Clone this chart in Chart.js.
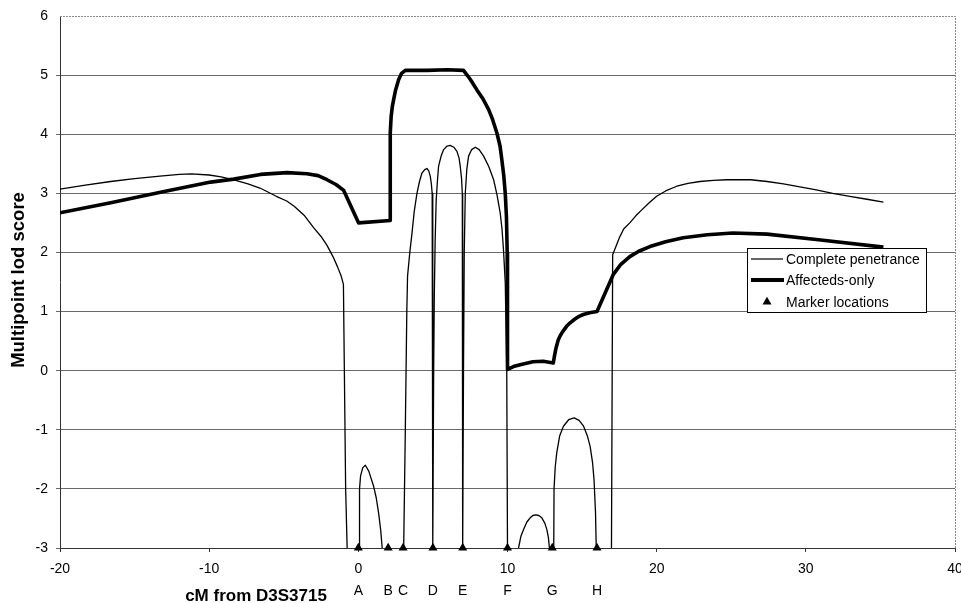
<!DOCTYPE html>
<html>
<head>
<meta charset="utf-8">
<script src="https://cdn.jsdelivr.net/npm/chart.js@4"></script>
<style>
  html, body { margin: 0; padding: 0; background: #fff; }
  #wrap { width: 961px; height: 603px; }
</style>
</head>
<body>
<div id="wrap"><canvas id="c" width="961" height="603"></canvas></div>
<script>
// Multipoint lod score along the map, cM from D3S3715.
// null lod values mark where a curve runs below the plotted range.
const penetranceCM = [
  -20, -18.3, -16.6, -15, -13.3, -12, -11.2, -10, -9.2, -8.4, -7.4, -6.6, -5.5, -4.8, -4.3, -3.6, -3.0, -2.5, -2.1, -1.7, -1.4, -1.15, -1.0, -0.95, -0.85, -0.75,
  -0.4,
  0.05, 0.08, 0.15, 0.3, 0.47, 0.7, 1.03, 1.2, 1.36, 1.5, 1.6,
  2.3,
  3.04, 3.15, 3.25, 3.3, 3.45, 3.6, 3.75, 3.93, 4.1, 4.26, 4.45, 4.6, 4.72, 4.82, 4.9, 4.95, 4.98, 5.0,
  5.05, 5.09, 5.15, 5.22, 5.3, 5.38, 5.55, 5.72, 5.95, 6.16, 6.4, 6.61, 6.75, 6.83, 6.92, 6.97, 6.99, 7.0,
  7.05, 7.1, 7.17, 7.27, 7.39, 7.6, 7.84, 8.1, 8.4, 8.75, 9.07, 9.3, 9.51, 9.63, 9.73, 9.85, 9.95, 10.0,
  10.4,
  10.74, 10.9, 11.07, 11.3, 11.52, 11.7, 11.9, 12.1, 12.3, 12.5, 12.64, 12.74, 12.81,
  12.95,
  13.1, 13.12, 13.2, 13.3, 13.5, 13.75, 14.1, 14.47, 14.8, 15.1, 15.35, 15.54, 15.7, 15.8, 15.9, 15.95,
  16.5,
  16.97, 17.05, 17.5, 17.8, 18.2, 18.6, 19.0, 19.5, 20.0, 20.6, 21.35, 22.1, 22.9, 23.8, 24.7, 26.3, 27.4, 28.5, 29.6, 30.7, 31.8, 32.95, 34.1, 35.2
];
const penetranceLod = [
  3.07, 3.14, 3.2, 3.25, 3.29, 3.32, 3.33, 3.31, 3.28, 3.23, 3.16, 3.09, 2.95, 2.87, 2.78, 2.62, 2.42, 2.27, 2.12, 1.93, 1.76, 1.6, 1.46, 0.3, -2.0, -3.0,
  null,
  -3.0, -2.0, -1.78, -1.64, -1.6, -1.7, -1.96, -2.15, -2.41, -2.7, -3.0,
  null,
  -3.0, -1.0, 1.0, 1.6, 2.0, 2.33, 2.7, 3.0, 3.2, 3.34, 3.4, 3.42, 3.38, 3.29, 3.15, 3.0, 2.0, -3.0,
  0.0, 1.2, 2.2, 2.89, 3.2, 3.46, 3.63, 3.74, 3.8, 3.81, 3.78, 3.71, 3.6, 3.46, 3.25, 3.0, 1.5, -3.0,
  0.0, 2.0, 3.0, 3.4, 3.63, 3.74, 3.78, 3.74, 3.63, 3.45, 3.23, 2.97, 2.67, 2.4, 2.05, 1.49, 0.0, -3.0,
  null,
  -3.0, -2.8, -2.69, -2.56, -2.49, -2.45, -2.44, -2.45, -2.49, -2.58, -2.69, -2.82, -3.0,
  null,
  -3.0, -2.0, -1.63, -1.39, -1.1, -0.94, -0.83, -0.8, -0.84, -0.94, -1.1, -1.28, -1.55, -1.84, -2.4, -3.0,
  null,
  -3.0, 1.96, 2.25, 2.4, 2.5, 2.62, 2.72, 2.84, 2.95, 3.04, 3.12, 3.17, 3.2, 3.22, 3.23, 3.23, 3.2, 3.16, 3.11, 3.06, 3.0, 2.95, 2.9, 2.85
];

const affectedCM = [
  -20, -16.6, -13.26, -9.9, -8.35, -6.56, -4.78, -3.44, -2.7, -2.1, -1.5, -0.98, 0.02, 2.14,
  2.14, 2.2, 2.28, 2.37, 2.5, 2.7, 2.9, 3.15,
  4.6, 5.94, 7.05, 7.5, 7.95, 8.35, 8.73, 9.0, 9.29, 9.5, 9.62, 9.75, 9.85, 9.93, 9.98, 10.0, 10.0,
  10.4, 10.85, 11.7, 12.4, 13.07, 13.15, 13.25, 13.4, 13.55, 13.7, 13.96, 14.2, 14.5, 14.8, 15.08, 15.5, 16.0,
  17.1, 17.6, 18.2, 18.8, 19.55, 20.6, 21.78, 23.4, 25.1, 27.4, 30.7, 35.2
];
const affectedLod = [
  2.67, 2.84, 3.02, 3.19, 3.24, 3.32, 3.35, 3.33, 3.3, 3.23, 3.15, 3.05, 2.5, 2.54,
  4.02, 4.3, 4.47, 4.59, 4.75, 4.92, 5.03, 5.08,
  5.08, 5.09, 5.08, 4.93, 4.75, 4.6, 4.42, 4.25, 4.02, 3.8, 3.57, 3.3, 3.0, 2.6, 2.0, 1.0, 0.02,
  0.07, 0.1, 0.15, 0.16, 0.13, 0.25, 0.38, 0.52, 0.6, 0.66, 0.75, 0.81, 0.87, 0.92, 0.95, 0.98, 1.0,
  1.63, 1.8, 1.93, 2.02, 2.1, 2.18, 2.25, 2.3, 2.33, 2.31, 2.22, 2.09
];

const markerCM = [0, 2, 3, 5, 7, 10, 13, 16];
const markerNames = ['A', 'B', 'C', 'D', 'E', 'F', 'G', 'H'];
const markerLod = [-3, -3, -3, -3, -3, -3, -3, -3];

const xTicks = [-20, -10, 0, 10, 20, 30, 40];
const yTicks = [-3, -2, -1, 0, 1, 2, 3, 4, 5, 6];

const seriesNames = ['Complete penetrance', 'Affecteds-only', 'Marker locations'];
const xTitle = 'cM from D3S3715';
const yTitle = 'Multipoint lod score';

const FONT = "'Liberation Sans', Arial, Helvetica, sans-serif";
Chart.defaults.font.family = FONT;
Chart.defaults.font.size = 14;
Chart.defaults.color = '#000';

const toPoints = (xs, ys) => xs.map((x, i) => ({ x: x, y: ys[i] }));

const decor = {
  id: 'decor',
  beforeDatasetsDraw(chart) {
    const { ctx, chartArea: a } = chart;
    ctx.save();
    ctx.strokeStyle = '#8a8a8a';
    ctx.lineWidth = 1;
    ctx.setLineDash([2, 1]);
    ctx.beginPath();
    ctx.moveTo(a.left, Math.round(a.top) + 0.5);
    ctx.lineTo(Math.round(a.right) + 0.5, Math.round(a.top) + 0.5);
    ctx.lineTo(Math.round(a.right) + 0.5, a.bottom);
    ctx.stroke();
    ctx.restore();
  },
  afterDraw(chart) {
    const { ctx } = chart;
    ctx.save();
    // axis titles
    ctx.fillStyle = '#000';
    ctx.textAlign = 'center';
    ctx.textBaseline = 'middle';
    ctx.font = 'bold 17px ' + FONT;
    ctx.fillText(xTitle, 256, 596);
    ctx.font = 'bold 18.5px ' + FONT;
    ctx.translate(18.5, 280);
    ctx.rotate(-Math.PI / 2);
    ctx.fillText(yTitle, 0, 0);
    ctx.restore();

    // legend box
    ctx.save();
    const bx = 747.5, by = 248.5, bw = 179, bh = 64;
    ctx.fillStyle = '#fff';
    ctx.fillRect(bx, by, bw, bh);
    ctx.strokeStyle = '#000';
    ctx.lineWidth = 1;
    ctx.strokeRect(bx, by, bw, bh);
    const rows = [259, 280, 302];
    ctx.lineCap = 'butt';
    ctx.beginPath();
    ctx.lineWidth = 1.2;
    ctx.moveTo(751, rows[0]); ctx.lineTo(783, rows[0]);
    ctx.stroke();
    ctx.beginPath();
    ctx.lineWidth = 4;
    ctx.moveTo(751, rows[1]); ctx.lineTo(784, rows[1]);
    ctx.stroke();
    ctx.fillStyle = '#000';
    Chart.helpers.drawPoint(ctx, { pointStyle: 'triangle', radius: 5.2, borderWidth: 0 }, 767, rows[2]);
    ctx.font = '14px ' + FONT;
    ctx.textAlign = 'left';
    ctx.textBaseline = 'middle';
    seriesNames.forEach((n, i) => ctx.fillText(n, 786, rows[i] + 1));
    ctx.restore();
  }
};

new Chart(document.getElementById('c'), {
  type: 'scatter',
  data: {
    datasets: [
      {
        label: seriesNames[0],
        data: toPoints(penetranceCM, penetranceLod),
        showLine: true,
        spanGaps: false,
        borderColor: '#000',
        borderWidth: 1.3,
        borderJoinStyle: 'round',
        pointRadius: 0,
        tension: 0
      },
      {
        label: seriesNames[1],
        data: toPoints(affectedCM, affectedLod),
        showLine: true,
        borderColor: '#000',
        borderWidth: 3.6,
        borderJoinStyle: 'round',
        pointRadius: 0,
        tension: 0
      },
      {
        label: seriesNames[2],
        data: toPoints(markerCM, markerLod),
        showLine: false,
        pointStyle: 'triangle',
        pointRadius: 5.2,
        pointBackgroundColor: '#000',
        pointBorderColor: '#000',
        pointBorderWidth: 0,
        clip: false
      }
    ]
  },
  options: {
    responsive: false,
    animation: false,
    layout: { padding: { top: 16, right: 6, left: 0, bottom: 0 } },
    plugins: { legend: { display: false }, tooltip: { enabled: false } },
    scales: {
      x: {
        type: 'linear',
        position: 'bottom',
        weight: 0,
        min: -20,
        max: 40,
        afterBuildTicks: s => { s.ticks = xTicks.map(v => ({ value: v })); },
        afterFit: s => { s.height = 25; s.paddingLeft = 0; s.paddingRight = 0; },
        ticks: { padding: 9, maxRotation: 0, autoSkip: false, color: '#000', font: { size: 14 } },
        grid: { drawOnChartArea: false, drawTicks: true, tickLength: 4, color: '#333' },
        border: { display: true, color: '#333', dash: [2, 1], width: 1 }
      },
      x2: {
        type: 'linear',
        position: 'bottom',
        weight: 1,
        min: -20,
        max: 40,
        afterBuildTicks: s => { s.ticks = markerCM.map(v => ({ value: v })); },
        afterFit: s => { s.height = 30; s.paddingLeft = 0; s.paddingRight = 0; },
        ticks: {
          padding: 10,
          maxRotation: 0,
          autoSkip: false,
          color: '#000',
          font: { size: 14 },
          callback: (v, i) => markerNames[i]
        },
        grid: { display: false, drawTicks: false },
        border: { display: false }
      },
      y: {
        type: 'linear',
        min: -3,
        max: 6,
        afterBuildTicks: s => { s.ticks = yTicks.map(v => ({ value: v })); },
        afterFit: s => { s.width = 60; s.paddingTop = 0; s.paddingBottom = 0; },
        ticks: { padding: 8, color: '#000', font: { size: 14 } },
        grid: {
          drawTicks: true,
          tickLength: 4,
          color: c => (c.tick && (c.tick.value === 6) ? 'rgba(0,0,0,0)' : '#6a6a6a'),
          lineWidth: 1
        },
        border: { display: true, color: '#333', width: 1 }
      }
    }
  },
  plugins: [decor]
});
</script>
</body>
</html>
